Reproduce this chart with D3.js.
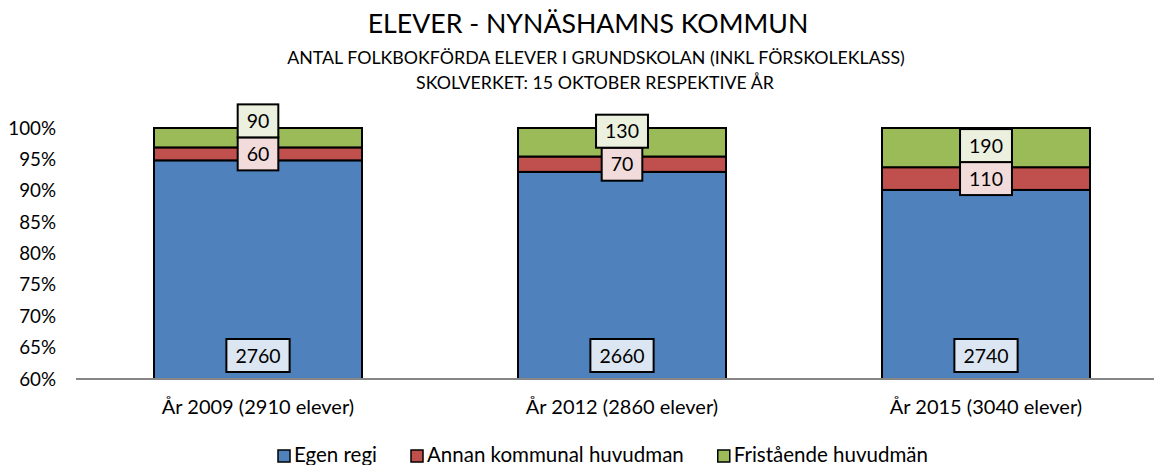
<!DOCTYPE html>
<html>
<head>
<meta charset="utf-8">
<script src="https://cdn.jsdelivr.net/npm/d3@7"></script>
<style>
  body { margin: 0; background: #fff; }
  text { font-family: Lato, "Open Sans", sans-serif; fill: #000; }
</style>
</head>
<body>
<div id="chart"></div>
<script>
"use strict";

// data
var years = ["2009", "2012", "2015"];
var xLabels = ["År 2009 (2910 elever)", "År 2012 (2860 elever)", "År 2015 (3040 elever)"];
var egenRegi = [2760, 2660, 2740];
var annanKommunal = [60, 70, 110];
var fristaende = [90, 130, 190];
var seriesNames = ["Egen regi", "Annan kommunal huvudman", "Fristående huvudmän"];
var yTicks = [60, 65, 70, 75, 80, 85, 90, 95, 100];

var colors = ["#4f81bd", "#c0504d", "#9bbb59"];
var labelFills = ["#dce6f2", "#f2dcdb", "#ebf1de"];

var width = 1154, height = 465;
var svg = d3.select("#chart").append("svg")
  .attr("width", width).attr("height", height);

// titles
svg.append("text").attr("x", 588).attr("y", 33).attr("text-anchor", "middle")
  .style("font-size", "26.7px").text("ELEVER - NYNÄSHAMNS KOMMUN");
svg.append("text").attr("x", 596).attr("y", 64).attr("text-anchor", "middle")
  .style("font-size", "17.8px").text("ANTAL FOLKBOKFÖRDA ELEVER I GRUNDSKOLAN (INKL FÖRSKOLEKLASS)");
svg.append("text").attr("x", 595).attr("y", 89).attr("text-anchor", "middle")
  .style("font-size", "17.8px").text("SKOLVERKET: 15 OKTOBER RESPEKTIVE ÅR");

var x = d3.scaleBand().domain(years).range([76, 1168])
  .paddingInner(0.4286).paddingOuter(0.2143);
var y = d3.scaleLinear().domain([60, 100]).range([379, 128]);

// build stacked percentage table
var table = years.map(function (yr, i) {
  var total = egenRegi[i] + annanKommunal[i] + fristaende[i];
  return { year: yr, vals: [egenRegi[i], annanKommunal[i], fristaende[i]], total: total };
});

// y axis
var yAxis = svg.append("g").attr("transform", "translate(76,0)")
  .call(d3.axisLeft(y).tickValues(yTicks).tickSize(0).tickPadding(20)
    .tickFormat(function (d) { return d + "%"; }));
yAxis.select(".domain").remove();
yAxis.selectAll("text").style("font-size", "18.8px").style("font-family", "Lato, sans-serif").attr("fill", "#000");

// bars
var segs = [];
table.forEach(function (d) {
  var cum = 0;
  d.vals.forEach(function (v, k) {
    var p0 = cum / d.total * 100;
    cum += v;
    var p1 = cum / d.total * 100;
    segs.push({ year: d.year, k: k, v: v, p0: p0, p1: p1 });
  });
});

svg.append("g").selectAll("rect").data(segs).enter().append("rect")
  .attr("x", function (d) { return x(d.year); })
  .attr("width", x.bandwidth())
  .attr("y", function (d) { return y(Math.min(100, d.p1)); })
  .attr("height", function (d) { return y(Math.max(60, d.p0)) - y(Math.min(100, d.p1)); })
  .attr("fill", function (d) { return colors[d.k]; })
  .attr("stroke", "#000").attr("stroke-width", 2);

// x axis line
svg.append("line").attr("x1", 76).attr("x2", width).attr("y1", 379).attr("y2", 379)
  .attr("stroke", "#868686").attr("stroke-width", 2);

// x labels
svg.append("g").selectAll("text").data(years).enter().append("text")
  .attr("x", function (d) { return x(d) + x.bandwidth() / 2; })
  .attr("y", 414).attr("text-anchor", "middle").style("font-size", "20px")
  .text(function (d, i) { return xLabels[i]; });

// data labels
var boxH = 33;
var labelG = svg.append("g");
table.forEach(function (d) {
  var cx = x(d.year) + x.bandwidth() / 2;
  var cum = d.vals[0] + d.vals[1];
  // blue: inside base
  var centers = [];
  centers[0] = y(60) - 7 - boxH / 2;
  // red: segment middle
  var redMid = (d.vals[0] + d.vals[1] / 2) / d.total * 100;
  centers[1] = y(redMid);
  // green: segment middle, pushed up so it does not overlap red
  var greenMid = (cum + d.vals[2] / 2) / d.total * 100;
  centers[2] = Math.min(y(greenMid), centers[1] - boxH);
  [0, 1, 2].forEach(function (k) {
    var g = labelG.append("g");
    var rect = g.append("rect");
    var t = g.append("text").attr("x", cx).attr("y", centers[k] + 7)
      .attr("text-anchor", "middle").style("font-size", "19.5px").text(d.vals[k]);
    var w = t.node().getComputedTextLength() + 18;
    rect.attr("x", cx - w / 2).attr("y", centers[k] - boxH / 2)
      .attr("width", w).attr("height", boxH)
      .attr("fill", labelFills[k]).attr("stroke", "#000").attr("stroke-width", 2);
  });
});

// legend
var legend = svg.append("g").attr("transform", "translate(0,456)");
var lx = 278;
seriesNames.forEach(function (name, k) {
  var g = legend.append("g").attr("transform", "translate(" + lx + ",0)");
  g.append("rect").attr("x", 0).attr("y", -6).attr("width", 12).attr("height", 12)
    .attr("fill", colors[k]).attr("stroke", "#000").attr("stroke-width", 1.5);
  var t = g.append("text").attr("x", 16).attr("y", 6).style("font-size", "20.5px").text(name);
  lx += 16 + t.node().getComputedTextLength() + 34;
});
</script>
</body>
</html>
